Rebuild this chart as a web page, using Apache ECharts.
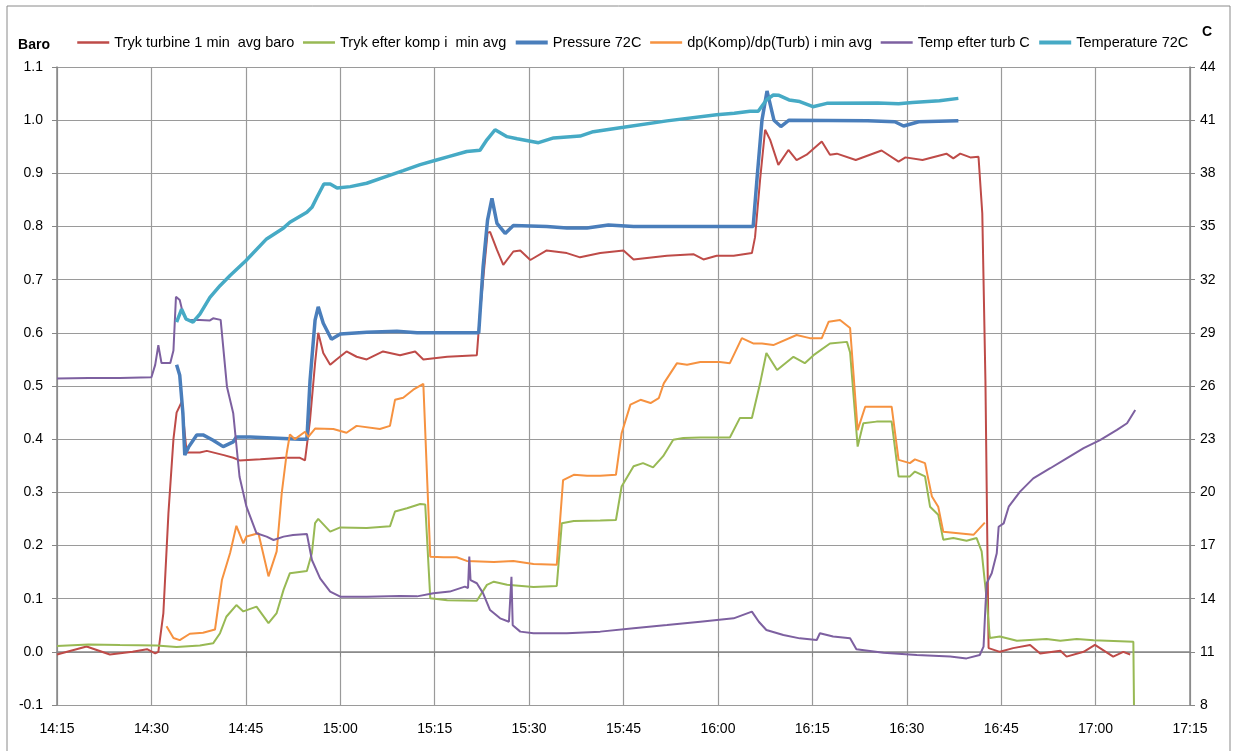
<!DOCTYPE html>
<html>
<head>
<meta charset="utf-8">
<title>Tryk / temperatur</title>
<script src="https://cdn.jsdelivr.net/npm/echarts@6/dist/echarts.min.js"></script>
<style>
  html, body { margin: 0; padding: 0; background: #fff; }
  #chart { width: 1235px; height: 751px; }
</style>
</head>
<body>
<div id="chart"></div>
<script>
// time is given as minutes after midnight (855 = 14:15)
var names = ['Tryk turbine 1 min  avg baro', 'Tryk efter komp i  min avg', 'Pressure 72C',
             'dp(Komp)/dp(Turb) i min avg', 'Temp efter turb C', 'Temperature 72C'];
var colors = ['#BE4B48', '#98B954', '#4A7EBB', '#F69240', '#7D60A0', '#46AAC5'];

// left axis (Baro)
var trykTurbine = [
  [855.0,-0.005],[859.7,0.010],[863.4,-0.005],[867.0,0.000],[869.3,0.005],[870.6,-0.003],[871.1,0.000],
  [871.9,0.073],[872.7,0.260],[873.5,0.400],[874.0,0.450],[874.8,0.470],[875.6,0.375],[877.7,0.375],
  [878.8,0.378],[881.5,0.370],[883.0,0.365],[884.0,0.360],[887.3,0.362],[891.0,0.365],[893.6,0.365],
  [894.4,0.360],[895.2,0.436],[896.0,0.543],[896.5,0.600],[897.3,0.562],[898.4,0.540],[899.4,0.550],
  [901.0,0.565],[902.6,0.555],[904.2,0.550],[906.8,0.565],[909.5,0.558],[911.9,0.565],[913.2,0.550],
  [917.0,0.555],[921.7,0.558],[922.2,0.637],[923.4,0.788],[923.8,0.790],[924.9,0.756],[925.9,0.728],
  [927.5,0.753],[928.6,0.755],[930.2,0.737],[932.8,0.755],[936.0,0.750],[938.1,0.742],[941.3,0.750],
  [945.0,0.755],[946.6,0.738],[951.9,0.745],[956.1,0.748],[957.7,0.738],[959.8,0.745],[962.5,0.745],
  [965.4,0.750],[965.9,0.780],[966.7,0.888],[967.5,0.982],[968.3,0.963],[969.6,0.916],[971.2,0.944],
  [972.5,0.925],[974.1,0.935],[976.5,0.960],[977.8,0.935],[978.9,0.937],[981.9,0.925],[986.0,0.943],
  [988.7,0.922],[989.8,0.930],[992.5,0.925],[996.3,0.937],[997.4,0.928],[998.5,0.937],[1000.1,0.930],
  [1001.4,0.931],[1002.0,0.825],[1002.5,0.510],[1003.0,0.007],[1004.8,0.000],[1006.9,0.007],[1009.6,0.013],
  [1011.2,-0.003],[1014.4,0.002],[1015.4,-0.009],[1018.1,0.000],[1019.9,0.013],[1022.8,-0.009],
  [1024.4,0.000],[1025.5,-0.005]
];
var trykKomp = [
  [855.0,0.011],[860.0,0.014],[865.0,0.013],[870.8,0.012],[874.0,0.009],[877.7,0.012],[879.8,0.016],
  [880.9,0.035],[881.9,0.066],[883.5,0.088],[884.6,0.076],[886.7,0.085],[888.6,0.054],[889.9,0.073],
  [891.0,0.117],[892.0,0.148],[894.7,0.152],[895.5,0.186],[896.0,0.242],[896.5,0.250],[898.4,0.226],
  [900.0,0.234],[904.2,0.233],[907.9,0.236],[908.7,0.264],[910.6,0.270],[912.7,0.278],[913.5,0.277],
  [914.3,0.101],[917.0,0.097],[921.7,0.096],[923.3,0.126],[924.4,0.132],[926.5,0.126],[930.7,0.122],
  [934.4,0.124],[935.2,0.242],[937.1,0.246],[941.3,0.247],[943.8,0.248],[944.7,0.311],[946.6,0.349],
  [948.1,0.355],[949.7,0.347],[951.3,0.368],[952.9,0.399],[954.5,0.402],[957.2,0.403],[961.9,0.403],
  [963.5,0.440],[965.4,0.440],[966.7,0.505],[967.7,0.562],[969.4,0.530],[972.0,0.555],[973.8,0.543],
  [975.2,0.558],[977.8,0.580],[980.5,0.583],[981.0,0.563],[982.2,0.386],[983.1,0.430],[985.2,0.433],
  [987.6,0.433],[988.7,0.330],[990.5,0.330],[991.3,0.339],[992.9,0.330],[993.7,0.273],[995.0,0.258],
  [995.8,0.211],[997.4,0.214],[999.5,0.209],[1001.1,0.214],[1001.9,0.189],[1002.7,0.098],[1003.2,0.026],
  [1004.8,0.029],[1007.5,0.021],[1012.2,0.024],[1014.4,0.021],[1017.0,0.024],[1019.7,0.022],
  [1026.0,0.019],[1026.1,-0.100]
];
var pressure72 = [
  [874.0,0.540],[874.5,0.520],[875.0,0.449],[875.3,0.370],[875.9,0.385],[877.2,0.408],[878.2,0.408],
  [879.8,0.398],[881.4,0.386],[883.0,0.395],[883.5,0.404],[885.7,0.404],[893.6,0.400],[894.7,0.400],
  [895.2,0.510],[896.0,0.624],[896.5,0.649],[897.3,0.618],[898.6,0.588],[900.0,0.598],[904.2,0.601],
  [909.0,0.603],[912.2,0.600],[922.0,0.600],[922.7,0.725],[923.4,0.812],[924.1,0.853],[924.9,0.806],
  [926.2,0.787],[927.5,0.802],[932.8,0.800],[936.0,0.797],[939.2,0.797],[942.6,0.803],[946.6,0.800],
  [965.6,0.800],[966.2,0.888],[967.0,1.000],[967.8,1.055],[968.9,1.000],[970.0,0.988],[971.3,1.000],
  [983.8,0.999],[988.1,0.997],[989.5,0.989],[991.9,0.997],[998.2,0.999]
];
var dpRatio = [
  [872.4,0.048],[873.5,0.026],[874.5,0.022],[876.1,0.034],[878.2,0.036],[880.1,0.042],[881.2,0.135],
  [882.5,0.186],[883.5,0.237],[884.6,0.204],[885.1,0.217],[887.0,0.223],[888.6,0.142],[889.9,0.189],
  [890.7,0.298],[891.5,0.374],[892.0,0.409],[892.8,0.400],[894.4,0.414],[894.9,0.404],[896.0,0.420],
  [898.9,0.419],[901.0,0.412],[902.6,0.425],[906.3,0.419],[907.9,0.425],[908.7,0.474],[910.0,0.478],
  [911.6,0.493],[913.2,0.504],[914.3,0.179],[916.4,0.178],[918.5,0.178],[920.1,0.171],[924.4,0.169],
  [927.5,0.171],[930.7,0.165],[934.4,0.164],[935.4,0.323],[937.1,0.333],[939.2,0.331],[941.3,0.331],
  [943.8,0.333],[944.7,0.411],[946.1,0.465],[947.7,0.474],[949.3,0.468],[950.6,0.477],[951.4,0.505],
  [953.5,0.543],[955.1,0.540],[957.2,0.545],[960.3,0.545],[961.9,0.543],[963.8,0.590],[965.6,0.580],
  [967.0,0.580],[968.8,0.577],[972.5,0.596],[974.6,0.590],[976.5,0.590],[977.6,0.621],[979.4,0.624],
  [981.0,0.609],[982.2,0.417],[983.4,0.461],[985.2,0.461],[987.6,0.461],[988.7,0.361],[990.5,0.355],
  [991.3,0.362],[992.9,0.355],[994.0,0.292],[995.0,0.273],[995.8,0.226],[997.4,0.224],[1000.6,0.220],
  [1002.4,0.243]
];

// right axis (C)
var tempTurb = [
  [855.0,26.43],[860.0,26.45],[865.0,26.45],[870.0,26.49],[870.6,27.19],[871.1,28.30],[871.6,27.30],
  [873.0,27.30],[873.5,28.00],[873.9,31.04],[874.5,30.85],[875.0,30.10],[875.6,29.73],[877.7,29.73],
  [879.3,29.70],[879.8,29.82],[881.0,29.73],[882.0,25.96],[883.0,24.46],[884.0,20.88],[885.1,19.19],
  [886.7,17.69],[888.3,17.50],[889.4,17.31],[891.0,17.50],[892.5,17.59],[894.7,17.65],[895.5,16.18],
  [896.8,15.15],[898.4,14.40],[900.0,14.11],[904.2,14.11],[909.5,14.15],[912.2,14.13],[914.8,14.30],
  [917.4,14.40],[919.8,14.68],[920.3,14.60],[920.5,16.37],[920.7,15.05],[921.7,14.87],[922.7,14.30],
  [923.8,13.36],[925.4,12.89],[926.8,12.70],[927.2,15.24],[927.4,12.50],[928.6,12.14],[930.7,12.05],
  [936.0,12.05],[941.3,12.14],[946.6,12.33],[951.9,12.51],[957.2,12.70],[962.5,12.89],[965.4,13.27],
  [966.5,12.70],[967.7,12.23],[970.4,11.95],[973.0,11.76],[975.7,11.67],[976.2,12.05],[978.3,11.86],
  [981.0,11.76],[982.0,11.14],[986.3,10.95],[991.6,10.82],[996.9,10.73],[999.5,10.63],[1001.6,10.82],
  [1002.2,11.29],[1002.5,13.55],[1002.7,14.87],[1003.5,15.43],[1004.3,16.56],[1004.6,18.06],
  [1005.4,18.25],[1006.2,19.19],[1008.0,20.04],[1010.1,20.79],[1012.8,21.36],[1015.4,21.92],
  [1018.1,22.49],[1020.7,22.95],[1023.4,23.52],[1025.0,23.90],[1026.3,24.65]
];
var temp72 = [
  [874.0,29.60],[874.8,30.34],[875.5,29.78],[876.6,29.60],[877.7,30.06],[879.3,31.00],[880.9,31.66],
  [882.5,32.23],[885.0,33.07],[888.3,34.30],[891.0,34.92],[892.0,35.24],[894.7,35.80],[895.5,36.08],
  [896.3,36.65],[897.4,37.40],[898.4,37.40],[899.5,37.17],[901.6,37.25],[904.2,37.44],[906.9,37.77],
  [910.0,38.15],[912.7,38.49],[915.3,38.75],[917.2,38.94],[920.1,39.23],[922.2,39.30],[923.3,39.89],
  [924.6,40.46],[926.5,40.07],[928.1,39.95],[931.5,39.73],[933.9,40.00],[938.1,40.10],[940.2,40.35],
  [945.0,40.60],[951.9,40.96],[959.8,41.30],[962.6,41.39],[965.1,41.50],[966.4,41.50],[967.7,42.14],
  [968.8,42.42],[969.7,42.40],[971.3,42.14],[973.0,42.05],[975.1,41.76],[977.3,41.95],[985.4,41.97],
  [988.7,41.92],[990.9,42.00],[995.2,42.10],[998.2,42.23]
];

var seriesData = [trykTurbine, trykKomp, pressure72, dpRatio, tempTurb, temp72];
var axisIdx = [0, 0, 0, 0, 1, 1];
var widths = [2, 2, 3.5, 2, 2, 3.5];

function hhmm(v) {
  var h = Math.floor(v / 60), m = Math.round(v % 60);
  return h + ':' + (m < 10 ? '0' + m : m);
}

var font = 'Liberation Sans';
var gridColor = '#9a9a9a';
var axisColor = '#868686';

var series = [];
var legendData = [];
for (var i = 0; i < seriesData.length; i++) {
  series.push({
    name: names[i],
    type: 'line',
    yAxisIndex: axisIdx[i],
    data: seriesData[i],
    symbol: 'none',
    showSymbol: false,
    lineStyle: { color: colors[i], width: widths[i] },
    itemStyle: { color: colors[i] }
  });
  legendData.push({ name: names[i], lineStyle: { color: colors[i], width: widths[i] + 0.5 } });
}

var option = {
  animation: false,
  backgroundColor: '#fff',
  textStyle: { fontFamily: font },
  graphic: [{
    type: 'rect',
    shape: { x: 7, y: 6, width: 1223, height: 760 },
    style: { fill: 'none', stroke: '#8a8a8a', lineWidth: 1 },
    silent: true
  }],
  legend: {
    left: 71,
    top: 30,
    itemWidth: 32,
    itemHeight: 14,
    itemGap: 7.5,
    itemStyle: { opacity: 0 },
    textStyle: { fontFamily: font, fontSize: 14.5, color: '#000' },
    data: legendData
  },
  grid: { left: 57, right: 45, top: 67, bottom: 46, containLabel: false },
  xAxis: {
    type: 'value',
    min: 855,
    max: 1035,
    interval: 15,
    axisLine: { lineStyle: { color: axisColor, width: 1.5 } },
    axisTick: { show: true, length: 5, lineStyle: { color: axisColor } },
    axisLabel: { margin: 17, fontSize: 14, color: '#000', formatter: hhmm },
    splitLine: { show: true, lineStyle: { color: gridColor, width: 1.2 } }
  },
  yAxis: [{
    type: 'value',
    min: -0.1,
    max: 1.1,
    interval: 0.1,
    name: 'Baro',
    nameLocation: 'end',
    nameGap: 22,
    nameTextStyle: { fontWeight: 'bold', fontSize: 14, color: '#000', align: 'right', verticalAlign: 'middle', padding: [0, 7, 0, 0] },
    axisLine: { show: true, lineStyle: { color: axisColor, width: 1.5 } },
    axisTick: { show: true, length: 5, lineStyle: { color: axisColor } },
    axisLabel: { margin: 14, fontSize: 14, color: '#000', formatter: function (v) { return v.toFixed(1); } },
    splitLine: { show: true, lineStyle: { color: gridColor, width: 1.2 } }
  }, {
    type: 'value',
    min: 8,
    max: 44,
    interval: 3,
    name: 'C',
    nameLocation: 'end',
    nameGap: 35,
    nameTextStyle: { fontWeight: 'bold', fontSize: 14, color: '#000', align: 'left', verticalAlign: 'middle', padding: [0, 0, 0, 12] },
    axisLine: { show: true, lineStyle: { color: axisColor, width: 1.5 } },
    axisTick: { show: true, length: 5, lineStyle: { color: axisColor } },
    axisLabel: { margin: 10, fontSize: 14, color: '#000' },
    splitLine: { show: false }
  }],
  series: series
};

var myChart = echarts.init(document.getElementById('chart'));
myChart.setOption(option);
</script>
</body>
</html>
